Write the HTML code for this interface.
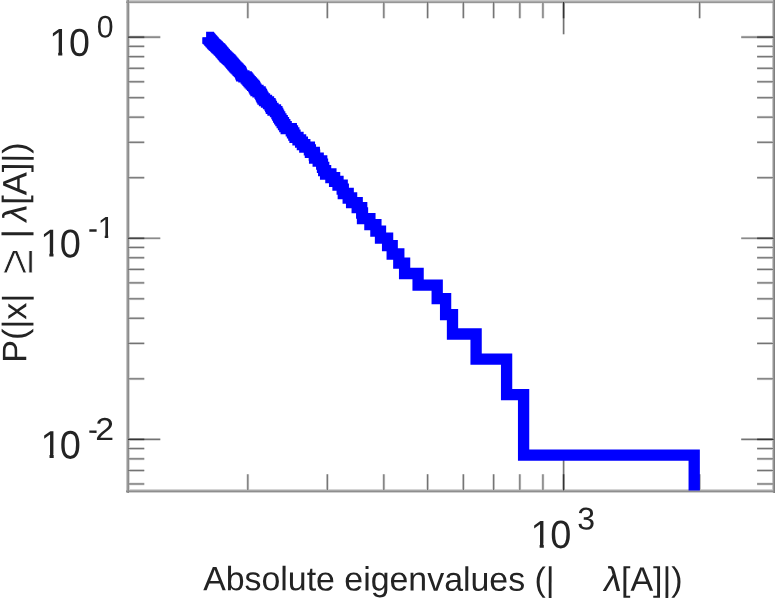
<!DOCTYPE html>
<html lang="en">
<head>
<meta charset="utf-8">
<title>Absolute eigenvalues distribution</title>
<style>
html,body{margin:0;padding:0;background:#fff;}
body{width:775px;height:600px;overflow:hidden;position:relative;}
svg{position:absolute;left:0;top:0;display:block;}
text{font-family:"Liberation Sans",sans-serif;fill:#232323;}
.sym{font-family:"Liberation Sans","DejaVu Sans",sans-serif;}
.tu{stroke:#000;stroke-opacity:0.18;stroke-width:2.7;}
.to{stroke:#000;stroke-opacity:0.45;stroke-width:1.2;}
.fs rect{shape-rendering:crispEdges;mix-blend-mode:darken;}
.curve{fill:none;stroke:#0000ff;stroke-width:11.3;stroke-linejoin:miter;stroke-linecap:butt;}
</style>
</head>
<body>
<svg width="775" height="600" viewBox="0 0 775 600">
<rect x="0" y="0" width="775" height="600" fill="#ffffff"/>
<g id="plot">
<g id="ticks">
<line class="tu" x1="128.00" y1="37.15" x2="160.30" y2="37.15"/><line class="to" x1="128.00" y1="37.15" x2="160.30" y2="37.15"/>
<line class="tu" x1="773.70" y1="37.15" x2="741.20" y2="37.15"/><line class="to" x1="773.70" y1="37.15" x2="741.20" y2="37.15"/>
<line class="tu" x1="128.00" y1="37.15" x2="144.30" y2="37.15"/><line class="to" x1="128.00" y1="37.15" x2="144.30" y2="37.15"/>
<line class="tu" x1="773.70" y1="37.15" x2="757.10" y2="37.15"/><line class="to" x1="773.70" y1="37.15" x2="757.10" y2="37.15"/>
<line class="tu" x1="128.00" y1="238.25" x2="160.30" y2="238.25"/><line class="to" x1="128.00" y1="238.25" x2="160.30" y2="238.25"/>
<line class="tu" x1="773.70" y1="238.25" x2="741.20" y2="238.25"/><line class="to" x1="773.70" y1="238.25" x2="741.20" y2="238.25"/>
<line class="tu" x1="128.00" y1="238.25" x2="144.30" y2="238.25"/><line class="to" x1="128.00" y1="238.25" x2="144.30" y2="238.25"/>
<line class="tu" x1="773.70" y1="238.25" x2="757.10" y2="238.25"/><line class="to" x1="773.70" y1="238.25" x2="757.10" y2="238.25"/>
<line class="tu" x1="128.00" y1="177.71" x2="144.30" y2="177.71"/><line class="to" x1="128.00" y1="177.71" x2="144.30" y2="177.71"/>
<line class="tu" x1="773.70" y1="177.71" x2="757.10" y2="177.71"/><line class="to" x1="773.70" y1="177.71" x2="757.10" y2="177.71"/>
<line class="tu" x1="128.00" y1="142.30" x2="144.30" y2="142.30"/><line class="to" x1="128.00" y1="142.30" x2="144.30" y2="142.30"/>
<line class="tu" x1="773.70" y1="142.30" x2="757.10" y2="142.30"/><line class="to" x1="773.70" y1="142.30" x2="757.10" y2="142.30"/>
<line class="tu" x1="128.00" y1="117.18" x2="144.30" y2="117.18"/><line class="to" x1="128.00" y1="117.18" x2="144.30" y2="117.18"/>
<line class="tu" x1="773.70" y1="117.18" x2="757.10" y2="117.18"/><line class="to" x1="773.70" y1="117.18" x2="757.10" y2="117.18"/>
<line class="tu" x1="128.00" y1="97.69" x2="144.30" y2="97.69"/><line class="to" x1="128.00" y1="97.69" x2="144.30" y2="97.69"/>
<line class="tu" x1="773.70" y1="97.69" x2="757.10" y2="97.69"/><line class="to" x1="773.70" y1="97.69" x2="757.10" y2="97.69"/>
<line class="tu" x1="128.00" y1="81.76" x2="144.30" y2="81.76"/><line class="to" x1="128.00" y1="81.76" x2="144.30" y2="81.76"/>
<line class="tu" x1="773.70" y1="81.76" x2="757.10" y2="81.76"/><line class="to" x1="773.70" y1="81.76" x2="757.10" y2="81.76"/>
<line class="tu" x1="128.00" y1="68.30" x2="144.30" y2="68.30"/><line class="to" x1="128.00" y1="68.30" x2="144.30" y2="68.30"/>
<line class="tu" x1="773.70" y1="68.30" x2="757.10" y2="68.30"/><line class="to" x1="773.70" y1="68.30" x2="757.10" y2="68.30"/>
<line class="tu" x1="128.00" y1="56.64" x2="144.30" y2="56.64"/><line class="to" x1="128.00" y1="56.64" x2="144.30" y2="56.64"/>
<line class="tu" x1="773.70" y1="56.64" x2="757.10" y2="56.64"/><line class="to" x1="773.70" y1="56.64" x2="757.10" y2="56.64"/>
<line class="tu" x1="128.00" y1="46.35" x2="144.30" y2="46.35"/><line class="to" x1="128.00" y1="46.35" x2="144.30" y2="46.35"/>
<line class="tu" x1="773.70" y1="46.35" x2="757.10" y2="46.35"/><line class="to" x1="773.70" y1="46.35" x2="757.10" y2="46.35"/>
<line class="tu" x1="128.00" y1="439.35" x2="160.30" y2="439.35"/><line class="to" x1="128.00" y1="439.35" x2="160.30" y2="439.35"/>
<line class="tu" x1="773.70" y1="439.35" x2="741.20" y2="439.35"/><line class="to" x1="773.70" y1="439.35" x2="741.20" y2="439.35"/>
<line class="tu" x1="128.00" y1="439.35" x2="144.30" y2="439.35"/><line class="to" x1="128.00" y1="439.35" x2="144.30" y2="439.35"/>
<line class="tu" x1="773.70" y1="439.35" x2="757.10" y2="439.35"/><line class="to" x1="773.70" y1="439.35" x2="757.10" y2="439.35"/>
<line class="tu" x1="128.00" y1="378.81" x2="144.30" y2="378.81"/><line class="to" x1="128.00" y1="378.81" x2="144.30" y2="378.81"/>
<line class="tu" x1="773.70" y1="378.81" x2="757.10" y2="378.81"/><line class="to" x1="773.70" y1="378.81" x2="757.10" y2="378.81"/>
<line class="tu" x1="128.00" y1="343.40" x2="144.30" y2="343.40"/><line class="to" x1="128.00" y1="343.40" x2="144.30" y2="343.40"/>
<line class="tu" x1="773.70" y1="343.40" x2="757.10" y2="343.40"/><line class="to" x1="773.70" y1="343.40" x2="757.10" y2="343.40"/>
<line class="tu" x1="128.00" y1="318.28" x2="144.30" y2="318.28"/><line class="to" x1="128.00" y1="318.28" x2="144.30" y2="318.28"/>
<line class="tu" x1="773.70" y1="318.28" x2="757.10" y2="318.28"/><line class="to" x1="773.70" y1="318.28" x2="757.10" y2="318.28"/>
<line class="tu" x1="128.00" y1="298.79" x2="144.30" y2="298.79"/><line class="to" x1="128.00" y1="298.79" x2="144.30" y2="298.79"/>
<line class="tu" x1="773.70" y1="298.79" x2="757.10" y2="298.79"/><line class="to" x1="773.70" y1="298.79" x2="757.10" y2="298.79"/>
<line class="tu" x1="128.00" y1="282.86" x2="144.30" y2="282.86"/><line class="to" x1="128.00" y1="282.86" x2="144.30" y2="282.86"/>
<line class="tu" x1="773.70" y1="282.86" x2="757.10" y2="282.86"/><line class="to" x1="773.70" y1="282.86" x2="757.10" y2="282.86"/>
<line class="tu" x1="128.00" y1="269.40" x2="144.30" y2="269.40"/><line class="to" x1="128.00" y1="269.40" x2="144.30" y2="269.40"/>
<line class="tu" x1="773.70" y1="269.40" x2="757.10" y2="269.40"/><line class="to" x1="773.70" y1="269.40" x2="757.10" y2="269.40"/>
<line class="tu" x1="128.00" y1="257.74" x2="144.30" y2="257.74"/><line class="to" x1="128.00" y1="257.74" x2="144.30" y2="257.74"/>
<line class="tu" x1="773.70" y1="257.74" x2="757.10" y2="257.74"/><line class="to" x1="773.70" y1="257.74" x2="757.10" y2="257.74"/>
<line class="tu" x1="128.00" y1="247.45" x2="144.30" y2="247.45"/><line class="to" x1="128.00" y1="247.45" x2="144.30" y2="247.45"/>
<line class="tu" x1="773.70" y1="247.45" x2="757.10" y2="247.45"/><line class="to" x1="773.70" y1="247.45" x2="757.10" y2="247.45"/>
<line class="tu" x1="128.00" y1="483.96" x2="144.30" y2="483.96"/><line class="to" x1="128.00" y1="483.96" x2="144.30" y2="483.96"/>
<line class="tu" x1="773.70" y1="483.96" x2="757.10" y2="483.96"/><line class="to" x1="773.70" y1="483.96" x2="757.10" y2="483.96"/>
<line class="tu" x1="128.00" y1="470.50" x2="144.30" y2="470.50"/><line class="to" x1="128.00" y1="470.50" x2="144.30" y2="470.50"/>
<line class="tu" x1="773.70" y1="470.50" x2="757.10" y2="470.50"/><line class="to" x1="773.70" y1="470.50" x2="757.10" y2="470.50"/>
<line class="tu" x1="128.00" y1="458.84" x2="144.30" y2="458.84"/><line class="to" x1="128.00" y1="458.84" x2="144.30" y2="458.84"/>
<line class="tu" x1="773.70" y1="458.84" x2="757.10" y2="458.84"/><line class="to" x1="773.70" y1="458.84" x2="757.10" y2="458.84"/>
<line class="tu" x1="128.00" y1="448.55" x2="144.30" y2="448.55"/><line class="to" x1="128.00" y1="448.55" x2="144.30" y2="448.55"/>
<line class="tu" x1="773.70" y1="448.55" x2="757.10" y2="448.55"/><line class="to" x1="773.70" y1="448.55" x2="757.10" y2="448.55"/>
<line class="tu" x1="247.81" y1="490.60" x2="247.81" y2="474.20"/><line class="to" x1="247.81" y1="490.60" x2="247.81" y2="474.20"/>
<line class="tu" x1="247.81" y1="2.00" x2="247.81" y2="18.30"/><line class="to" x1="247.81" y1="2.00" x2="247.81" y2="18.30"/>
<line class="tu" x1="327.36" y1="490.60" x2="327.36" y2="474.20"/><line class="to" x1="327.36" y1="490.60" x2="327.36" y2="474.20"/>
<line class="tu" x1="327.36" y1="2.00" x2="327.36" y2="18.30"/><line class="to" x1="327.36" y1="2.00" x2="327.36" y2="18.30"/>
<line class="tu" x1="383.81" y1="490.60" x2="383.81" y2="474.20"/><line class="to" x1="383.81" y1="490.60" x2="383.81" y2="474.20"/>
<line class="tu" x1="383.81" y1="2.00" x2="383.81" y2="18.30"/><line class="to" x1="383.81" y1="2.00" x2="383.81" y2="18.30"/>
<line class="tu" x1="427.59" y1="490.60" x2="427.59" y2="474.20"/><line class="to" x1="427.59" y1="490.60" x2="427.59" y2="474.20"/>
<line class="tu" x1="427.59" y1="2.00" x2="427.59" y2="18.30"/><line class="to" x1="427.59" y1="2.00" x2="427.59" y2="18.30"/>
<line class="tu" x1="463.37" y1="490.60" x2="463.37" y2="474.20"/><line class="to" x1="463.37" y1="490.60" x2="463.37" y2="474.20"/>
<line class="tu" x1="463.37" y1="2.00" x2="463.37" y2="18.30"/><line class="to" x1="463.37" y1="2.00" x2="463.37" y2="18.30"/>
<line class="tu" x1="493.62" y1="490.60" x2="493.62" y2="474.20"/><line class="to" x1="493.62" y1="490.60" x2="493.62" y2="474.20"/>
<line class="tu" x1="493.62" y1="2.00" x2="493.62" y2="18.30"/><line class="to" x1="493.62" y1="2.00" x2="493.62" y2="18.30"/>
<line class="tu" x1="519.82" y1="490.60" x2="519.82" y2="474.20"/><line class="to" x1="519.82" y1="490.60" x2="519.82" y2="474.20"/>
<line class="tu" x1="519.82" y1="2.00" x2="519.82" y2="18.30"/><line class="to" x1="519.82" y1="2.00" x2="519.82" y2="18.30"/>
<line class="tu" x1="542.93" y1="490.60" x2="542.93" y2="474.20"/><line class="to" x1="542.93" y1="490.60" x2="542.93" y2="474.20"/>
<line class="tu" x1="542.93" y1="2.00" x2="542.93" y2="18.30"/><line class="to" x1="542.93" y1="2.00" x2="542.93" y2="18.30"/>
<line class="tu" x1="563.60" y1="490.60" x2="563.60" y2="458.30"/><line class="to" x1="563.60" y1="490.60" x2="563.60" y2="458.30"/>
<line class="tu" x1="563.60" y1="2.00" x2="563.60" y2="34.30"/><line class="to" x1="563.60" y1="2.00" x2="563.60" y2="34.30"/>
<line class="tu" x1="563.60" y1="490.60" x2="563.60" y2="474.20"/><line class="to" x1="563.60" y1="490.60" x2="563.60" y2="474.20"/>
<line class="tu" x1="563.60" y1="2.00" x2="563.60" y2="18.30"/><line class="to" x1="563.60" y1="2.00" x2="563.60" y2="18.30"/>
<line class="tu" x1="699.61" y1="490.60" x2="699.61" y2="474.20"/><line class="to" x1="699.61" y1="490.60" x2="699.61" y2="474.20"/>
<line class="tu" x1="699.61" y1="2.00" x2="699.61" y2="18.30"/><line class="to" x1="699.61" y1="2.00" x2="699.61" y2="18.30"/>
</g>
<g id="frame" class="fs">
<rect x="126" y="0" width="649" height="1" fill="rgb(200,200,200)"/>
<rect x="126" y="1" width="649" height="1" fill="rgb(170,170,170)"/>
<rect x="126" y="2" width="649" height="1" fill="rgb(150,150,150)"/>
<rect x="126" y="3" width="649" height="1" fill="rgb(235,235,235)"/>
<rect x="126" y="489" width="649" height="1" fill="rgb(212,212,212)"/>
<rect x="126" y="490" width="649" height="1" fill="rgb(168,168,168)"/>
<rect x="126" y="491" width="649" height="1" fill="rgb(142,142,142)"/>
<rect x="126" y="492" width="649" height="1" fill="rgb(208,208,208)"/>
<rect x="126" y="0" width="1" height="493" fill="rgb(200,200,200)"/>
<rect x="127" y="0" width="1" height="493" fill="rgb(155,155,155)"/>
<rect x="128" y="0" width="1" height="493" fill="rgb(140,140,140)"/>
<rect x="129" y="0" width="1" height="493" fill="rgb(215,215,215)"/>
<rect x="772" y="0" width="1" height="493" fill="rgb(200,200,200)"/>
<rect x="773" y="0" width="1" height="493" fill="rgb(150,150,150)"/>
<rect x="774" y="0" width="1" height="493" fill="rgb(128,128,128)"/>
</g>
<g id="curve">
<rect x="202.4" y="37.3" width="8" height="6.6" fill="#0000ff"/>
<path class="curve" d="M206.1,37.5H208.3H208.3V37.7H208.5V38.5H209.2V39.2H209.8V40.0H210.5V40.7H211.1V41.5H211.8V42.2H212.5V43.0H213.2V43.8H213.9V44.6H214.8V45.4H215.6V46.2H216.5V47.0H217.3V47.8H218.2V48.7H219.1V49.5H220.0V50.3H220.7V51.2H221.4V52.1H222.2V52.9H222.9V53.8H223.6V54.7H224.4V55.6H225.1V56.5H226.1V57.4H227.1V58.3H228.2V59.3H229.2V60.2H230.1V61.2H230.9V62.1H231.7V63.1H232.6V64.1H233.4V65.1H234.3V66.1H235.1V67.1H236.1V68.2H237.2V69.2H238.2V70.3H239.3V71.3H240.3V72.4H240.8V73.5H241.2V74.6H241.7V75.8H243.9V76.9H246.2V78.0H247.1V79.2H248.1V80.4H249.1V81.6H250.2V82.8H251.4V84.1H252.6V85.3H253.8V86.6H254.5V87.9H255.1V89.2H256.0V90.5H258.0V91.9H260.1V93.3H260.8V94.7H261.5V96.1H262.2V97.5H263.0V99.0H264.5V100.5H266.5V102.0H268.5V103.6H270.0V105.1H270.7V106.7H271.4V108.4H273.0V110.0H275.5V111.7H276.9V113.5H277.7V115.2H278.6V117.0H279.7V118.9H280.9V120.7H282.2V122.7H283.5V124.6H284.8V126.6H286.2V128.7H291.3V130.8H292.5V132.9H293.8V135.2H295.0V137.4H298.0V139.8H300.6V142.2H302.4V144.6H304.8V147.1H309.4V149.8H310.4V152.4H314.3V155.2H314.6V158.1H318.2V161.0H321.7V164.1H322.5V167.3H323.7V170.6H325.6V174.0H330.9V177.6H334.6V181.3H338.0V185.2H342.2V189.2H343.3V193.5H348.2V198.0H351.6V202.7H357.2V207.7H361.7V213.0H362.5V218.6H369.9V224.6H375.9V231.1H380.5V238.1H387.6V245.7H392.2V254.0H398.8V263.2H404.6V273.5H418.1V285.2H437.2V298.6H445.6V314.6H452.5V334.0H476.1V359.2H506.6V394.6H523.6V455.1H694.2V490.6"/>
</g>
</g>
<defs><clipPath id="c_y0a"><rect x="48.98" y="25.80" width="22.16" height="25.35"/><rect x="58.17" y="25.80" width="4.13" height="32.60"/></clipPath><clipPath id="c_y1a"><rect x="40.08" y="226.90" width="22.33" height="25.19"/><rect x="49.34" y="226.90" width="4.16" height="32.70"/></clipPath><clipPath id="c_y1e"><rect x="96.83" y="214.00" width="19.04" height="20.85"/><rect x="104.75" y="214.00" width="3.45" height="27.10"/></clipPath><clipPath id="c_y2a"><rect x="40.26" y="428.20" width="22.37" height="25.80"/><rect x="49.53" y="428.20" width="4.17" height="32.80"/></clipPath><clipPath id="c_x3a"><rect x="530.38" y="518.00" width="22.33" height="24.95"/><rect x="539.64" y="518.00" width="4.16" height="32.70"/></clipPath></defs>
<g id="labels">
<g clip-path="url(#c_y0a)"><text id="y0a" font-size="38" transform="matrix(0.9871 0.002 -0.0020 1.0139 49.26 55.42)">1</text></g>
<text id="y0b" font-size="38" transform="matrix(0.9871 0.002 -0.0020 1.0229 68.91 55.70)">0</text>
<text id="y0e" font-size="30" transform="matrix(1.0066 0.002 -0.0020 1.0401 96.65 37.51)">0</text>
<g clip-path="url(#c_y1a)"><text id="y1a" font-size="38" transform="matrix(0.9972 0.002 -0.0020 1.0212 40.27 256.58)">1</text></g>
<text id="y1b" font-size="38" transform="matrix(0.9972 0.002 -0.0020 1.0474 59.69 257.21)">0</text>
<text id="y1m" font-size="30" transform="matrix(0.9914 0.002 -0.0020 1.1328 87.98 239.38)">-</text>
<g clip-path="url(#c_y1e)"><text id="y1e" font-size="30" transform="matrix(1.0066 0.002 -0.0020 1.0203 97.65 237.98)">1</text></g>
<g clip-path="url(#c_y2a)"><text id="y2a" font-size="38" transform="matrix(0.9971 0.002 -0.0020 1.0289 40.49 458.06)">1</text></g>
<text id="y2b" font-size="38" transform="matrix(0.9971 0.002 -0.0020 1.0428 59.79 458.56)">0</text>
<text id="y2m" font-size="30" transform="matrix(0.9889 0.002 -0.0020 1.0518 88.00 440.08)">-</text>
<text id="y2e" font-size="30" transform="matrix(1.1300 0.002 -0.0020 1.0586 95.24 440.04)">2</text>
<g clip-path="url(#c_x3a)"><text id="x3a" font-size="38" transform="matrix(0.9971 0.002 -0.0020 1.0216 530.39 547.64)">1</text></g>
<text id="x3b" font-size="38" transform="matrix(0.9971 0.002 -0.0020 1.0376 550.28 548.04)">0</text>
<text id="x3e" font-size="30" transform="matrix(1.0658 0.002 -0.0020 1.0530 577.29 529.56)">3</text>
<text id="xt1" font-size="34" transform="matrix(0.9963 0.002 -0.0020 0.9904 203.13 590.18)">Absolute eigenvalues (|</text>
<text id="xt2" class="sym" font-size="34" transform="matrix(1.0495 0.002 -0.1279 1.0172 602.52 591.08)">λ</text>
<text id="xt3" font-size="34" transform="matrix(1.0002 0.002 -0.0020 0.9973 620.99 590.64)">[A]|)</text>
<text id="yt1" font-size="34" transform="matrix(0.002 -1.0052 0.9987 0.0020 26.26 362.67)">P(|x|</text>
<text style="stroke:#fff;stroke-opacity:1;stroke-width:0.6px;paint-order:normal" id="yt2" class="sym" font-size="34" transform="matrix(0.002 -1.3630 1.4163 0.0020 32.22 274.62)">≥</text>
<text id="yt3" font-size="34" transform="matrix(0.002 -1.0713 1.0043 0.0020 26.33 238.62)">|</text>
<text id="yt4" class="sym" font-size="34" transform="matrix(0.002 -1.0180 0.9959 0.1242 26.46 223.32)">λ</text>
<text id="yt5" font-size="34" transform="matrix(0.002 -1.0122 1.0011 0.0020 26.36 204.79)">[A]|)</text>
</g>
</svg>
</body>
</html>
